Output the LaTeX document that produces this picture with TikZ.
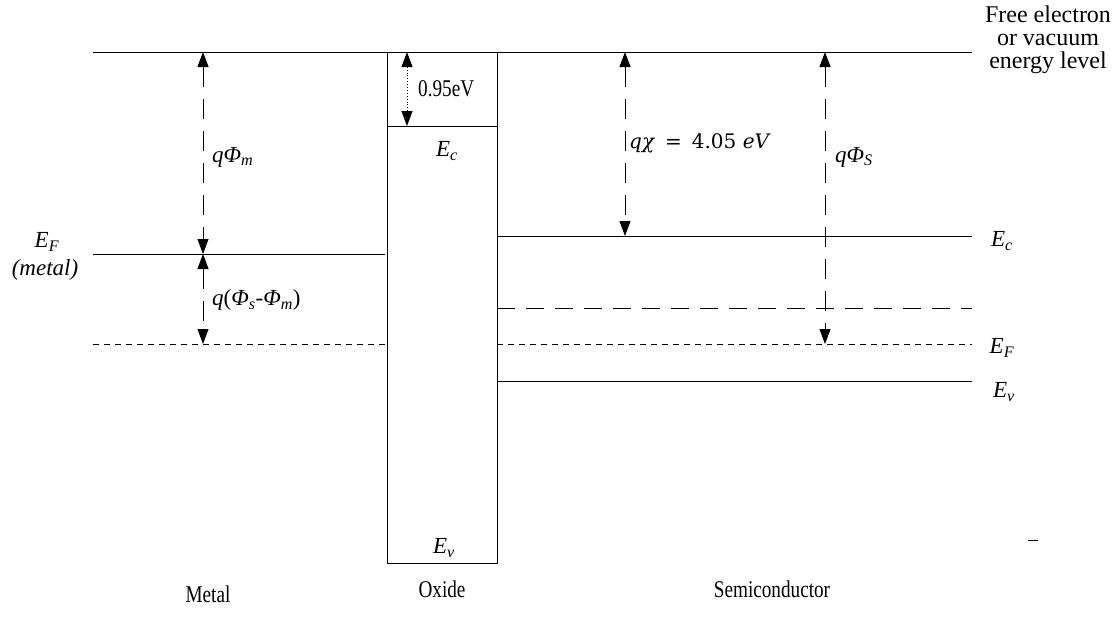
\documentclass[tikz,border=0pt]{standalone}
\usepackage{graphicx}
\usepackage{fontspec}
\setmainfont{Liberation Serif}
\newfontfamily\chifont{DejaVu Serif}
\usetikzlibrary{arrows.meta}

\newcommand{\lvl}[2]{\textit{#1}\textsubscript{\textit{#2}}}
\newcommand{\tall}[1]{\scalebox{0.8}[1]{#1}}

\begin{document}
\begin{tikzpicture}[x=1pt, y=-1pt,
    level/.style={line width=0.9pt},
    longdash/.style={line width=0.9pt, dash pattern=on 18pt off 11pt},
    fermi/.style={line width=0.9pt, dash pattern=on 6pt off 5pt},
    span/.style={line width=0.9pt, dash pattern=on 20pt off 12pt,
        {Triangle[length=15pt,width=11pt]}-{Triangle[length=15pt,width=11pt]}},
    lbl/.style={font=\fontsize{24}{26}\selectfont, inner sep=0pt},
    ilbl/.style={font=\fontsize{23}{26}\selectfont, inner sep=0pt}]

    \useasboundingbox (0,0) rectangle (1120,629);

    % Vacuum level
    \coordinate (vacL) at (93,52);
    \coordinate (vacR) at (972,52);
    \draw[level] (vacL) -- (vacR);

    % Oxide band
    \node[draw, line width=0.9pt, anchor=north west, inner sep=0pt,
        minimum width=110pt, minimum height=511pt] (oxide) at (387,52) {};
    \coordinate (oxEcL) at (387,126);
    \coordinate (oxEcR) at (497,126);
    \draw[level] (oxEcL) -- (oxEcR);

    % Metal
    \coordinate (mEfL) at (93,254);
    \coordinate (mEfR) at (385,254);
    \draw[level] (mEfL) -- (mEfR);
    \coordinate (sEfL) at (93,344);
    \coordinate (sEfM) at (387,344);
    \draw[fermi] (sEfL) -- (sEfM);

    % Semiconductor
    \coordinate (ecL) at (497,236);
    \coordinate (ecR) at (972,236);
    \draw[level] (ecL) -- (ecR);
    \coordinate (eiL) at (497,308);
    \coordinate (eiR) at (972,308);
    \draw[longdash] (eiL) -- (eiR);
    \coordinate (efL) at (497,344);
    \coordinate (efR) at (972,344);
    \draw[fermi] (efL) -- (efR);
    \coordinate (evL) at (497,381);
    \coordinate (evR) at (972,381);
    \draw[level] (evL) -- (evR);

    % Arrows
    \coordinate (phimTop) at (203,52);
    \coordinate (phimBot) at (203,254);
    \coordinate (diffBot) at (203,344);
    \draw[span] (phimTop) -- (phimBot);
    \draw[span] (phimBot) -- (diffBot);
    \node[ilbl, anchor=west] (phim) at (212,157) {\lvl{qΦ}{m}};
    \node[ilbl, anchor=west] (diff) at (212,300) {\textit{q}(\lvl{Φ}{s}-\lvl{Φ}{m})};

    \coordinate (oxTop) at (407,52);
    \coordinate (oxBot) at (407,126);
    \draw[line width=0.9pt, dotted, {Triangle[length=15pt,width=11pt]}-{Triangle[length=15pt,width=11pt]}] (oxTop) -- (oxBot);
    \node[lbl, anchor=west] (gap) at (418,89) {\tall{0.95eV}};

    \coordinate (chiTop) at (625,52);
    \coordinate (chiBot) at (625,236);
    \draw[span] (chiTop) -- (chiBot);
    \node[inner sep=0pt, anchor=west, font=\chifont\fontsize{20}{24}\selectfont] (chi) at (629,143)
        {\textit{qχ}\enspace=\enspace 4.05 \textit{eV}};

    \coordinate (phisTop) at (825,52);
    \coordinate (phisBot) at (825,344);
    \draw[span] (phisTop) -- (phisBot);
    \node[ilbl, anchor=west] (phis) at (835,157) {\lvl{qΦ}{S}};

    % Level labels
    \node[inner sep=0pt, align=center, font=\fontsize{24}{23}\selectfont] (vacuum) at (1048,40)
        {Free electron\\or vacuum\\energy level};
    \node[ilbl] (ecLbl) at (1002,241) {\lvl{E}{c}};
    \node[ilbl] (efLbl) at (1002,348) {\lvl{E}{F}};
    \node[ilbl] (evLbl) at (1004,392) {\lvl{E}{v}};
    \node[ilbl] (oxEc) at (447,151) {\lvl{E}{c}};
    \node[ilbl] (oxEv) at (444,548) {\lvl{E}{v}};
    \node[ilbl] (mEf) at (47,242) {\lvl{E}{F}};
    \node[ilbl] (mEfTxt) at (45,270) {\textit{(metal)}};
    \draw[line width=0.8pt] (1028,540) -- (1038,540);

    % Regions
    \node[lbl] (metal) at (208,594) {\tall{Metal}};
    \node[lbl] (oxTxt) at (442,589) {\tall{Oxide}};
    \node[lbl] (semi) at (772,589) {\tall{Semiconductor}};
\end{tikzpicture}
\end{document}
